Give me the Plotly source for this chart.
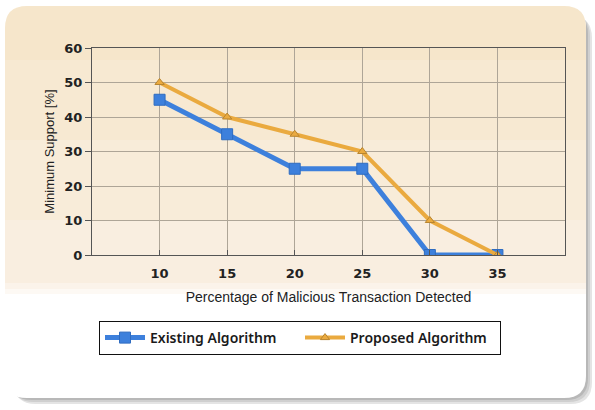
import plotly.graph_objects as go

# Detection rates on the x axis and minimum support for each algorithm
detected_pct = [10, 15, 20, 25, 30, 35]
existing_support = [45, 35, 25, 25, 0, 0]
proposed_support = [50, 40, 35, 30, 10, 0]

x_ticks = [10, 15, 20, 25, 30, 35]
y_ticks = [0, 10, 20, 30, 40, 50, 60]

W, H = 595, 410
L, R, T, B = 92, 30, 48, 155
PW, PH = W - L - R, H - T - B


def px(x):
    return (x - L) / PW


def py(y):
    return (H - B - y) / PH


def rounded_path(x0, y0, x1, y1, r):
    # rounded rectangle in paper units, corners given in pixels
    rx, ry = r / PW, r / PH
    a0, a1 = px(x0), px(x1)
    b0, b1 = py(y1), py(y0)
    return (f"M {a0+rx},{b0} L {a1-rx},{b0} Q {a1},{b0} {a1},{b0+ry} "
            f"L {a1},{b1-ry} Q {a1},{b1} {a1-rx},{b1} L {a0+rx},{b1} "
            f"Q {a0},{b1} {a0},{b1-ry} L {a0},{b0+ry} Q {a0},{b0} {a0+rx},{b0} Z")


shapes = []
# soft drop shadow behind the panel
for i, c in enumerate(["#e4e4e4", "#cfcfcf", "#b8b8b8"]):
    off = 6 - i * 2
    shapes.append(dict(type="path", xref="paper", yref="paper", layer="below",
                       path=rounded_path(8 + off, 10 + off, 586 + off, 398 + off, 22),
                       fillcolor=c, line=dict(width=0)))
# white panel
shapes.append(dict(type="path", xref="paper", yref="paper", layer="below",
                   path=rounded_path(5, 6, 586, 398, 22),
                   fillcolor="#ffffff", line=dict(width=0)))
# beige band fading towards white
bands = [(6, 60, "#f6e6cb"), (60, 140, "#f7e9d2"), (140, 220, "#f8ecd9"),
         (220, 283, "#f9eee0"), (283, 289, "#fbf3ea"), (289, 294, "#fdf9f4")]
for y0, y1, c in bands:
    if y0 == 6:
        shapes.append(dict(type="path", xref="paper", yref="paper", layer="below",
                           path=rounded_path(5, 6, 586, 120, 22),
                           fillcolor=c, line=dict(width=0)))
        continue
    shapes.append(dict(type="rect", xref="paper", yref="paper", layer="below",
                       x0=px(5), x1=px(586), y0=py(y1), y1=py(y0),
                       fillcolor=c, line=dict(width=0)))

fig = go.Figure()
fig.add_trace(go.Scatter(
    x=detected_pct, y=existing_support, name="Existing Algorithm",
    mode="lines+markers",
    line=dict(color="#3d80dc", width=5),
    marker=dict(symbol="square", size=11, color="#3d80dc",
                line=dict(color="#2f6cc0", width=1)),
))
fig.add_trace(go.Scatter(
    x=detected_pct, y=proposed_support, name="Proposed Algorithm",
    mode="lines+markers",
    line=dict(color="#eaaa3f", width=4),
    marker=dict(symbol="triangle-up", size=8, color="#eaaa3f",
                line=dict(color="#b88530", width=1)),
))

fig.update_layout(
    width=W, height=H,
    margin=dict(l=L, r=R, t=T, b=B),
    paper_bgcolor="white",
    plot_bgcolor="#f9eee2",
    shapes=shapes,
    showlegend=True,
    legend=dict(orientation="h", x=px(99), xanchor="left", y=py(321), yanchor="top",
                bgcolor="white", bordercolor="#111111", borderwidth=1,
                font=dict(family="Noto Sans", size=14, color="#1a1a1a", weight=600),
                itemwidth=40, entrywidth=145, tracegroupgap=0),
    font=dict(family="Liberation Sans", color="#222222"),
)
fig.update_xaxes(
    range=[5, 40], tickvals=x_ticks, ticktext=[str(v) for v in x_ticks],
    showgrid=True, gridcolor="#aea597", gridwidth=1,
    showline=True, linecolor="#555555", linewidth=1, mirror=True,
    ticks="inside", ticklen=5, tickcolor="#555555",
    ticklabelstandoff=6,
    tickfont=dict(family="DejaVu Sans", size=13, color="#222222", weight="bold"),
    title=dict(text="Percentage of Malicious Transaction Detected",
               font=dict(family="Liberation Sans", size=14, color="#222222"), standoff=12),
    zeroline=False,
)
fig.update_yaxes(
    range=[0, 60], tickvals=y_ticks,
    showgrid=True, gridcolor="#aea597", gridwidth=1,
    showline=True, linecolor="#555555", linewidth=1, mirror=True,
    ticks="outside", ticklen=6, tickcolor="#555555",
    tickfont=dict(family="DejaVu Sans", size=13, color="#222222", weight="bold"),
    title=dict(text="Minimum Support [%]",
               font=dict(family="Liberation Sans", size=13, color="#222222"), standoff=6),
    zeroline=False,
)

fig.write_html("out.html")
